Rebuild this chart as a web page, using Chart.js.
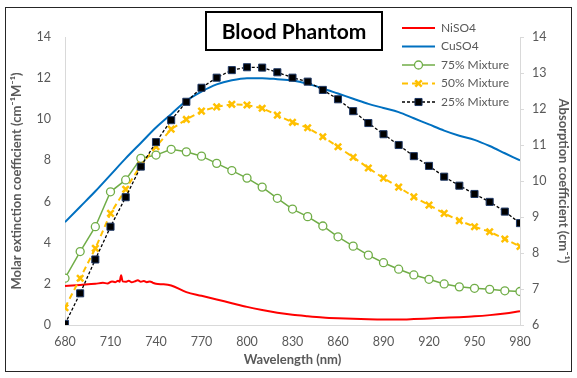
<!DOCTYPE html>
<html>
<head>
<meta charset="utf-8">
<script src="https://cdn.jsdelivr.net/npm/chart.js@4/dist/chart.umd.min.js"></script>
<style>
  body { margin: 0; background: #fff; }
  #wrap { width: 577px; height: 378px; }
</style>
</head>
<body>
<div id="wrap"><canvas id="myChart" width="577" height="378"></canvas></div>
<script>
// wavelengths of the measured mixtures (nm)
const wavelengths = [680, 690, 700, 710, 720, 730, 740, 750, 760, 770, 780,
  790, 800, 810, 820, 830, 840, 850, 860, 870, 880,
  890, 900, 910, 920, 930, 940, 950, 960, 970, 980];

// absorption coefficient (cm^-1), right axis
const mix75 = [7.30, 8.04, 8.73, 9.70, 10.03, 10.63, 10.72, 10.88, 10.81, 10.69, 10.49,
  10.29, 10.08, 9.83, 9.52, 9.22, 9.01, 8.75, 8.45, 8.19, 7.94,
  7.73, 7.55, 7.39, 7.27, 7.14, 7.06, 7.02, 6.99, 6.95, 6.93];
const mix50 = [6.48, 7.30, 8.13, 9.10, 9.77, 10.44, 10.95, 11.44, 11.71, 11.94, 12.06,
  12.13, 12.11, 12.02, 11.83, 11.63, 11.48, 11.23, 10.95, 10.66, 10.36,
  10.08, 9.83, 9.56, 9.33, 9.10, 8.90, 8.73, 8.59, 8.39, 8.18];
const mix25 = [6.03, 6.88, 7.82, 8.73, 9.55, 10.40, 11.08, 11.69, 12.20, 12.59, 12.87,
  13.08, 13.16, 13.15, 13.02, 12.87, 12.76, 12.53, 12.27, 11.94, 11.61,
  11.30, 11.00, 10.69, 10.42, 10.12, 9.87, 9.64, 9.42, 9.15, 8.83];

// molar extinction coefficient (cm^-1 M^-1), left axis
const cuso4 = [5.0, 5.75, 6.5, 7.3, 8.1, 8.85, 9.6, 10.25, 10.9, 11.35, 11.7,
  11.9, 12.0, 12.0, 11.95, 11.88, 11.72, 11.5, 11.25, 11.0, 10.75,
  10.55, 10.35, 10.05, 9.75, 9.45, 9.2, 9.0, 8.7, 8.35, 8.0];

const niWavelengths = [680, 690, 700, 705, 708, 711, 713, 715, 716, 717, 718, 720, 722, 724,
  726, 728, 730, 732, 734, 736, 738, 740, 745, 750, 760, 770, 780, 790, 800,
  810, 820, 830, 840, 850, 860, 870, 880, 890, 900, 910, 920, 930, 940, 950, 960, 970, 980];
const niso4 = [1.90, 1.95, 2.00, 2.05, 2.02, 2.12, 2.08, 2.15, 2.10, 2.42, 2.12, 2.10, 2.15, 2.08,
  2.12, 2.18, 2.10, 2.14, 2.08, 2.12, 2.05, 2.00, 1.98, 1.92, 1.60, 1.42, 1.24, 1.06, 0.88,
  0.73, 0.60, 0.50, 0.43, 0.37, 0.33, 0.30, 0.28, 0.27, 0.27, 0.29, 0.32, 0.35, 0.38, 0.42, 0.48, 0.56, 0.67];

const xTicks = [680, 710, 740, 770, 800, 830, 860, 890, 920, 950, 980];

const pairs = (xs, ys) => xs.map((x, i) => ({x: x, y: ys[i]}));

const grey = '#595959';
const font = 'Lato';

const datasets = [
  {
    label: 'NiSO4', data: pairs(niWavelengths, niso4), yAxisID: 'y',
    borderColor: '#FF0000', borderWidth: 2, pointRadius: 0,
    cubicInterpolationMode: 'monotone', order: 5
  },
  {
    label: 'CuSO4', data: pairs(wavelengths, cuso4), yAxisID: 'y',
    borderColor: '#0070C0', borderWidth: 2, pointRadius: 0,
    cubicInterpolationMode: 'monotone', order: 4
  },
  {
    label: '75% Mixture', data: pairs(wavelengths, mix75), yAxisID: 'y1',
    borderColor: '#70AD47', borderWidth: 1.5, pointStyle: 'circle', pointRadius: 4,
    pointBackgroundColor: '#FFFFFF', pointBorderColor: '#70AD47', pointBorderWidth: 1.3, order: 3
  },
  {
    label: '50% Mixture', data: pairs(wavelengths, mix50), yAxisID: 'y1',
    borderColor: '#FFC000', borderWidth: 2, borderDash: [6, 4], pointStyle: 'crossRot', pointRadius: 4.5,
    pointBorderColor: '#FFC000', pointBorderWidth: 2.5, order: 2
  },
  {
    label: '25% Mixture', data: pairs(wavelengths, mix25), yAxisID: 'y1',
    borderColor: '#000000', borderWidth: 1.3, borderDash: [3, 2], pointStyle: 'rect', pointRadius: 5,
    pointBackgroundColor: '#000000', pointBorderColor: '#1F3864', pointBorderWidth: 1, order: 1
  }
];

function drawMarker(ctx, ds, x, y) {
  if (!ds.pointRadius) return;
  const r = ds.pointRadius;
  ctx.save();
  ctx.setLineDash([]);
  ctx.lineWidth = ds.pointBorderWidth;
  ctx.strokeStyle = ds.pointBorderColor;
  ctx.fillStyle = ds.pointBackgroundColor || ds.pointBorderColor;
  ctx.beginPath();
  if (ds.pointStyle === 'circle') {
    ctx.arc(x, y, r, 0, Math.PI * 2);
    ctx.fill(); ctx.stroke();
  } else if (ds.pointStyle === 'rect') {
    const s = r * Math.SQRT1_2;
    ctx.rect(x - s, y - s, 2 * s, 2 * s);
    ctx.fill(); ctx.stroke();
  } else if (ds.pointStyle === 'crossRot') {
    const s = r * Math.SQRT1_2;
    ctx.moveTo(x - s, y - s); ctx.lineTo(x + s, y + s);
    ctx.moveTo(x + s, y - s); ctx.lineTo(x - s, y + s);
    ctx.stroke();
  }
  ctx.restore();
}

// frame, boxed title and the legend placed at the top right
const decorations = {
  id: 'decorations',
  afterDraw(chart) {
    const ctx = chart.ctx;
    ctx.save();
    ctx.strokeStyle = '#262626';
    ctx.lineWidth = 1;
    ctx.strokeRect(5.5, 7.5, 566, 364);

    ctx.lineWidth = 2;
    ctx.strokeStyle = '#000000';
    ctx.strokeRect(206, 12, 176, 38);
    ctx.fillStyle = '#000000';
    ctx.font = 'bold 21px ' + font;
    ctx.textAlign = 'center';
    ctx.textBaseline = 'middle';
    ctx.fillText('Blood Phantom', 294, 32);

    ctx.font = '12px ' + font;
    ctx.textAlign = 'left';
    ctx.fillStyle = grey;
    datasets.forEach((ds, i) => {
      const y = 28 + i * 18.5;
      ctx.save();
      ctx.strokeStyle = ds.borderColor;
      ctx.lineWidth = ds.borderWidth;
      ctx.setLineDash(ds.borderDash || []);
      ctx.beginPath();
      ctx.moveTo(402, y);
      ctx.lineTo(435, y);
      ctx.stroke();
      ctx.restore();
      drawMarker(ctx, ds, 418.5, y);
      ctx.fillText(ds.label, 441, y);
    });
    ctx.restore();
  }
};

new Chart(document.getElementById('myChart'), {
  type: 'line',
  data: {datasets: datasets},
  options: {
    responsive: false,
    animation: false,
    layout: {padding: {top: 37, left: 5, right: 4, bottom: 6}},
    plugins: {legend: {display: false}, tooltip: {enabled: false}},
    scales: {
      x: {
        type: 'linear', min: 680, max: 980,
        afterBuildTicks: (axis) => { axis.ticks = xTicks.map(v => ({value: v})); },
        afterFit: (axis) => { axis.height = 47; },
        grid: {display: false, drawTicks: false},
        border: {display: true, color: '#D9D9D9'},
        ticks: {color: grey, font: {family: font, size: 12.5}, padding: 9, maxRotation: 0},
        title: {display: true, text: 'Wavelength (nm)', color: grey,
          font: {family: font, size: 13, weight: 'bold'}, padding: {top: 4}}
      },
      y: {
        position: 'left', min: 0, max: 14,
        afterFit: (axis) => { axis.width = 60; },
        grid: {display: false, drawTicks: false},
        border: {display: true, color: '#D9D9D9'},
        ticks: {stepSize: 2, color: grey, font: {family: font, size: 12.5}, padding: 14},
        title: {display: true, text: 'Molar extinction coefficient (cm⁻¹M⁻¹)', color: grey,
          font: {family: font, size: 13, weight: 'bold'}, padding: {bottom: 2}}
      },
      y1: {
        position: 'right', min: 6, max: 14,
        afterFit: (axis) => { axis.width = 53; },
        grid: {display: true, drawOnChartArea: false, drawTicks: true, tickLength: 4, color: '#D9D9D9'},
        border: {display: true, color: '#D9D9D9'},
        ticks: {stepSize: 1, color: grey, font: {family: font, size: 12.5}, padding: 8},
        title: {display: true, text: 'Absorption coefficient (cm⁻¹)', color: grey,
          font: {family: font, size: 13, weight: 'bold'}, padding: {top: 2}}
      }
    }
  },
  plugins: [decorations]
});
</script>
</body>
</html>
